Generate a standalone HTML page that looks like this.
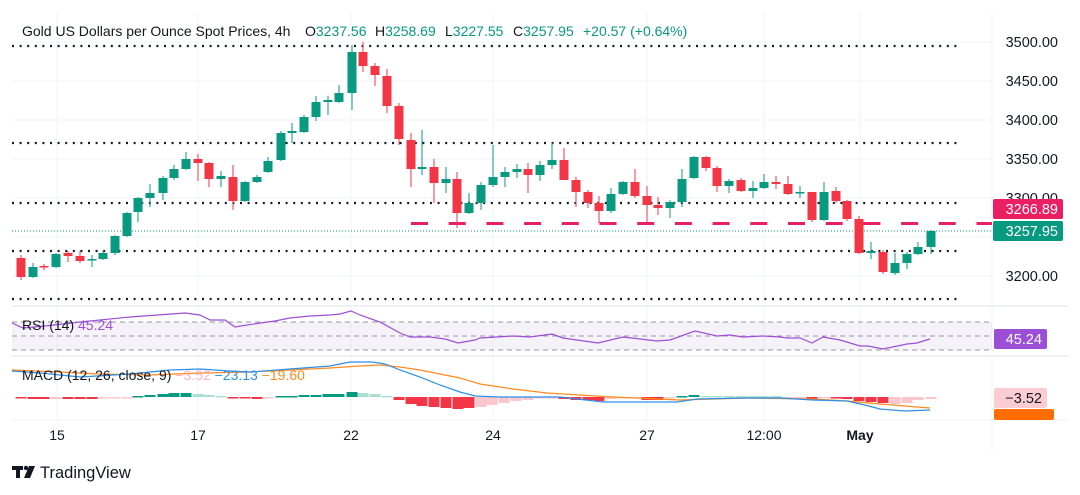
<!DOCTYPE html>
<html><head><meta charset="utf-8"><style>
html,body{margin:0;padding:0;background:#fff;}
svg{display:block;font-family:"Liberation Sans",sans-serif;}
</style></head><body>
<svg id="s" width="1080" height="495" viewBox="0 0 1080 495" xmlns="http://www.w3.org/2000/svg">
<rect width="1080" height="495" fill="#fff"/>
<g id="grid" stroke="#f0f3fa" stroke-width="1"></g>
<line x1="12" y1="306" x2="1068" y2="306" stroke="#e0e3eb"/>
<line x1="12" y1="356" x2="1068" y2="356" stroke="#e0e3eb"/>
<line x1="12" y1="420" x2="1068" y2="420" stroke="#f0f3fa"/>
<line x1="992" y1="12" x2="992" y2="452" stroke="#f0f3fa"/>
<rect x="12" y="322" width="980" height="28" fill="#7e57c2" fill-opacity="0.08"/>
<g stroke="#9598a1" stroke-width="1" stroke-dasharray="5,4">
<line x1="12" y1="322" x2="992" y2="322"/><line x1="12" y1="336" x2="992" y2="336"/><line x1="12" y1="350" x2="992" y2="350"/>
</g>
<g stroke="#131722" stroke-width="2.2" stroke-dasharray="2,5.6">
<line x1="12" y1="46" x2="962" y2="46"/><line x1="12" y1="143" x2="962" y2="143"/><line x1="12" y1="203" x2="962" y2="203"/><line x1="12" y1="251" x2="962" y2="251"/><line x1="12" y1="299" x2="962" y2="299"/>
</g>
<line x1="12" y1="231" x2="992" y2="231" stroke="#089981" stroke-width="1" stroke-dasharray="1,2"/>
<line x1="411" y1="223.5" x2="992" y2="223.5" stroke="#e91e63" stroke-width="3" stroke-dasharray="17,20.7"/>
<g id="hist"></g>
<g id="candles"></g>
<polyline id="rsi" fill="none" stroke="#9c4fd6" stroke-width="1.2"/>
<polyline id="sig" fill="none" stroke="#ff8a1e" stroke-width="1.2"/>
<polyline id="macd" fill="none" stroke="#2f8fe6" stroke-width="1.2"/>
<g font-size="14" fill="#131722">
<text x="22" y="36">Gold US Dollars per Ounce Spot Prices, 4h</text>
<text x="305" y="36">O<tspan fill="#089981">3237.56</tspan></text>
<text x="375" y="36">H<tspan fill="#089981">3258.69</tspan></text>
<text x="445" y="36">L<tspan fill="#089981">3227.55</tspan></text>
<text x="513" y="36">C<tspan fill="#089981">3257.95</tspan></text>
<text x="583" y="36" fill="#089981">+20.57 (+0.64%)</text>
</g>
<text x="22" y="330" font-size="14" fill="#131722">RSI (14) <tspan fill="#9c4fd6">45.24</tspan></text>
<text x="22" y="380" font-size="14" fill="#131722">MACD (12, 26, close, 9) <tspan fill="#f7b7c0">−3.52</tspan> <tspan fill="#2f8fe6">−23.13</tspan> <tspan fill="#ff8a1e">−19.60</tspan></text>
<g font-size="14.5" fill="#131722" text-anchor="end">
<text x="1058" y="47">3500.00</text><text x="1058" y="86">3450.00</text><text x="1058" y="125">3400.00</text><text x="1058" y="164">3350.00</text><text x="1058" y="203">3300.00</text><text x="1058" y="281">3200.00</text>
</g>
<rect x="993" y="199" width="70" height="20" rx="2" fill="#e91e63"/>
<text x="1058" y="214" font-size="14.5" fill="#fff" text-anchor="end">3266.89</text>
<rect x="993" y="221" width="70" height="20" rx="2" fill="#089981"/>
<text x="1058" y="236" font-size="14.5" fill="#fff" text-anchor="end">3257.95</text>
<rect x="994" y="329" width="53" height="20" rx="2" fill="#9c4fd6"/>
<text x="1042" y="344" font-size="14.5" fill="#fff" text-anchor="end">45.24</text>
<rect x="994" y="388" width="53" height="20" rx="2" fill="#fbcdd2"/>
<text x="1042" y="403" font-size="14.5" fill="#131722" text-anchor="end">−3.52</text>
<rect x="994" y="409" width="60" height="11" rx="2" fill="#ff6d00"/>
<g font-size="14" fill="#131722" text-anchor="middle">
<text x="57" y="440">15</text><text x="198" y="440">17</text><text x="351" y="440">22</text><text x="493" y="440">24</text><text x="647" y="440">27</text><text x="764" y="440">12:00</text><text x="860" y="440" font-weight="bold">May</text>
</g>
<g fill="#131722"><rect x="12" y="466" width="11" height="4"/><rect x="16" y="466" width="4" height="12"/><circle cx="26" cy="468" r="2.2"/><polygon points="29,466 35,466 30,478 24,478"/></g>
<text x="40" y="478" font-size="16.5" fill="#131722">TradingView</text>
</svg>
<script>
var NS="http://www.w3.org/2000/svg";
function el(p,t,a){var e=document.createElementNS(NS,t);for(var k in a)e.setAttribute(k,a[k]);document.getElementById(p).appendChild(e);return e;}
[57,198,351,493,647,764,860].forEach(function(x){el("grid","line",{x1:x,y1:12,x2:x,y2:420});});
[42,81,120,159,198,237,276].forEach(function(y){el("grid","line",{x1:12,y1:y,x2:992,y2:y});});
var C=[[21,258,277,255,280,'r'],[33,267,277,263,278,'g'],[44,266,267,264,270,'r'],[56,254,267,253,268,'g'],[68,253,256,251,262,'r'],[80,256,261,251,263,'r'],[92,259,260,255,267,'g'],[103,253,259,251,260,'g'],[115,236,253,235,255,'g'],[127,213,236,212,237,'g'],[138,198,212,197,222,'g'],[150,193,198,184,207,'g'],[163,178,193,176,200,'g'],[174,169,178,165,180,'g'],[186,159,169,152,170,'g'],[198,159,163,154,181,'r'],[209,163,179,162,187,'r'],[221,176,179,171,187,'g'],[233,177,201,165,210,'r'],[245,182,201,181,202,'g'],[257,177,182,175,183,'g'],[268,161,172,157,173,'g'],[281,133,160,131,161,'g'],[292,131,133,123,143,'g'],[304,117,132,115,133,'g'],[316,102,117,96,121,'g'],[328,100,102,96,115,'g'],[339,93,102,85,103,'g'],[352,52,93,45,110,'g'],[363,52,66,42,72,'r'],[375,66,75,63,86,'r'],[387,76,106,69,113,'r'],[399,106,139,103,145,'r'],[411,140,169,133,187,'r'],[422,167,169,130,175,'g'],[434,167,183,159,203,'r'],[446,179,183,167,193,'g'],[457,179,213,172,228,'r'],[469,203,213,193,214,'g'],[481,185,203,182,210,'g'],[493,177,185,145,187,'g'],[505,172,177,167,187,'g'],[517,169,172,164,178,'g'],[528,169,175,163,193,'r'],[540,165,175,161,181,'g'],[552,160,165,143,169,'g'],[564,160,180,148,180,'r'],[576,180,192,177,207,'r'],[588,192,203,190,208,'r'],[599,203,211,196,223,'r'],[611,194,211,188,213,'g'],[623,182,194,181,195,'g'],[635,182,196,169,198,'r'],[647,196,205,186,222,'r'],[658,205,208,197,215,'r'],[670,202,208,200,218,'g'],[682,179,202,169,207,'g'],[694,157,178,156,179,'g'],[706,157,168,156,171,'r'],[717,168,186,166,192,'r'],[729,181,186,179,193,'g'],[741,180,191,178,192,'r'],[753,188,191,181,198,'g'],[764,182,188,174,189,'g'],[776,182,184,176,189,'r'],[788,184,194,176,195,'r'],[800,192,193,186,198,'g'],[812,192,220,192,222,'r'],[824,192,220,182,221,'g'],[836,191,201,187,203,'r'],[847,201,219,200,221,'r'],[859,219,253,216,254,'r'],[871,251,253,242,259,'g'],[883,252,272,250,274,'r'],[895,263,273,253,275,'g'],[907,254,263,252,269,'g'],[918,247,254,242,255,'g'],[931,231,247,230,254,'g']];
C.forEach(function(c){var col=c[5]=='g'?'#089981':'#f23645';
el("candles","line",{x1:c[0],y1:c[3],x2:c[0],y2:c[4],stroke:col,"stroke-width":1});
el("candles","rect",{x:c[0]-4.5,y:c[1],width:9,height:Math.max(1.5,c[2]-c[1]),fill:col});});
document.getElementById("rsi").setAttribute("points","12,323 23,328 45,326 80,322 130,317 185,313 200,315 210,320 225,320 235,327 260,323 275,321 290,318 310,316 330,315 340,314 351,311 360,315 380,322 400,333 410,337 430,337 445,339 458,343 475,340 480,338 513,336 530,337 552,334 563,338 598,343 623,337 657,341 670,340 695,331 717,336 730,335 743,337 763,336 780,337 787,338 800,338 812,343 823,337 840,340 860,346 868,346 883,349 907,344 917,343 930,339");
document.getElementById("macd").setAttribute("points","12,371 40,373 80,377 130,374 170,370 200,369 230,371 250,372 290,369 330,366 350,362 372,362 385,364 400,370 420,377 440,385 460,392 475,396 500,397 560,397 603,402 677,402 697,399 747,398 780,398 813,400 847,401 865,405 880,409 905,411 930,410");
document.getElementById("sig").setAttribute("points","12,370 60,372 100,374 150,375 200,373 250,372 290,370 330,368 360,366 380,365 400,367 420,370 440,374 460,378 480,384 513,389 547,393 613,397 680,400 747,398 813,399 847,401 880,404 930,408");
var H=[[21,398,'r'],[33,399,'r'],[44,399,'r'],[56,399,'p'],[68,399,'r'],[80,399,'r'],[92,399,'r'],[103,398,'p'],[115,398,'p'],[127,397.5,'p'],[138,396,'g'],[150,395,'g'],[163,394,'g'],[174,393,'g'],[186,393,'g'],[198,394,'lg'],[209,395,'lg'],[221,396,'lg'],[233,398,'r'],[245,398,'r'],[257,399,'r'],[268,398,'p'],[281,396,'g'],[292,396,'g'],[304,395,'g'],[316,395,'g'],[328,394,'g'],[339,394,'g'],[352,392,'g'],[363,393,'lg'],[375,394,'lg'],[387,396,'lg'],[399,400,'r'],[411,404,'r'],[422,406,'r'],[434,407,'r'],[446,408,'r'],[458,409,'r'],[469,408,'r'],[481,407,'p'],[492,405,'p'],[504,403,'p'],[516,401,'p'],[528,400,'p'],[540,398,'p'],[552,398,'p'],[564,399,'r'],[576,400,'r'],[588,400,'r'],[599,401,'r'],[611,399,'p'],[623,398,'p'],[635,398,'p'],[647,400,'r'],[658,400,'r'],[670,398,'p'],[682,396,'g'],[694,395,'g'],[706,396,'lg'],[717,396,'lg'],[729,396,'lg'],[741,396,'lg'],[753,396,'lg'],[764,396,'lg'],[776,396,'lg'],[788,397,'p'],[800,398,'p'],[812,399,'r'],[824,398,'p'],[836,398,'r'],[847,399,'r'],[859,401,'r'],[871,402,'r'],[883,403,'r'],[895,404,'p'],[907,403,'p'],[918,400,'p'],[931,399,'p']];
var HC={r:'#f23645',p:'#fbc7cd',g:'#089981',lg:'#acdfd4'};
H.forEach(function(h){var y0=397;var t=Math.min(y0,h[1]),b=Math.max(y0,h[1]);el("hist","rect",{x:h[0]-5.5,y:t,width:11,height:Math.max(1.5,b-t),fill:HC[h[2]]});});
</script>
</body></html>
